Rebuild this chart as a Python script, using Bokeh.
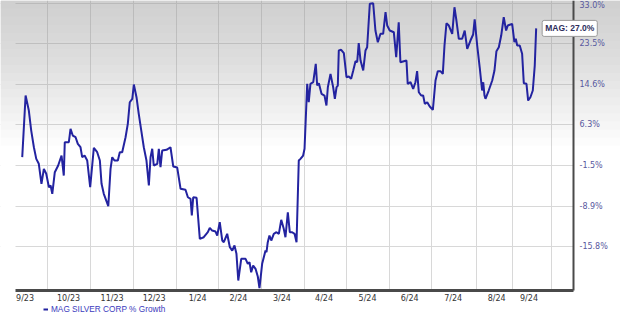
from bokeh.plotting import figure
from bokeh.models import Range1d, FixedTicker, Label, BoxAnnotation
from bokeh.embed import file_html
from bokeh.resources import INLINE

# ---- data ----
# trading-session positions, days since 2023-09-01
days = [5.0, 7.4, 9.7, 11.4, 13.3, 15.0, 16.8, 18.7, 20.4, 22.1, 24.0, 25.2, 26.4, 28.2, 30.6,
        33.0, 34.6, 35.3, 38.2, 39.4, 41.0, 43.0, 44.6, 46.5, 47.7, 49.4, 51.3, 53.4, 56.0, 58.4,
        60.3, 61.5, 63.1, 66.3, 67.9, 69.1, 70.7, 73.1, 74.5, 76.2, 78.6, 80.2, 81.6, 83.4, 84.5,
        86.4, 88.0, 89.8, 91.6, 93.5, 95.2, 96.4, 97.6, 98.7, 101.2, 102.3, 103.5, 104.7, 107.8, 110.6,
        112.6, 115.4, 117.8, 121.3, 123.0, 124.9, 125.8, 126.8, 129.2, 131.5, 134.3, 137.2, 138.6, 140.3, 142.7,
        143.9, 145.7, 147.5, 148.6, 151.0, 152.9, 154.6, 156.2, 157.6, 158.9, 161.0, 164.1, 165.7, 166.9, 168.1,
        169.5, 171.2, 172.8, 174.0, 175.9, 178.3, 179.0, 179.9, 181.1, 182.4, 184.2, 186.1, 187.8, 189.5, 191.3,
        192.5, 194.2, 195.6, 197.3, 199.0, 200.4, 202.0, 203.2, 205.1, 206.1, 208.0, 209.1, 210.3, 212.3, 214.1,
        215.1, 216.3, 218.2, 220.3, 221.7, 222.7, 224.6, 226.5, 227.7, 228.9, 229.8, 230.5, 232.2, 234.1, 236.0,
        237.6, 239.3, 240.8, 242.4, 243.6, 244.7, 246.0, 247.9, 249.5, 250.7, 252.6, 255.0, 256.6, 258.3, 260.2,
        262.1, 263.8, 265.0, 266.8, 269.7, 271.4, 273.2, 274.4, 278.7, 279.6, 281.6, 283.5, 285.1, 286.3, 287.5,
        289.2, 290.6, 291.8, 293.5, 295.3, 297.5, 299.4, 301.0, 302.9, 304.6, 305.8, 307.2, 308.9, 311.3, 312.9,
        314.3, 316.0, 318.4, 320.2, 322.0, 324.3, 326.2, 327.3, 329.1, 330.9, 332.6, 333.4, 334.3, 335.0, 337.3,
        339.8, 341.4, 342.8, 344.5, 346.2, 348.0, 349.7, 350.9, 354.0, 355.6, 356.6, 357.6, 359.4, 361.1, 362.3,
        364.2, 365.4, 367.0, 368.7, 370.1, 371.1]

# MAG SILVER CORP % growth
growth = [0.0, 12.24, 9.15, 5.14, 1.89, -0.32, -1.25, -4.94, -2.19, -3.11, -5.56, -5.25, -6.74, -2.82, -1.57,
          0.31, -3.43, 2.86, 2.86, 5.48, 4.16, 3.83, 2.55, 1.89, -0.01, 0.31, -0.64, -5.56, 1.78, 0.94,
          -0.64, -4.94, -6.74, -8.93, -2.19, -0.01, -0.64, -0.64, 0.94, 0.94, 3.83, 6.47, 10.85, 11.56, 14.56,
          11.89, 8.48, 5.14, 1.89, -0.64, -5.25, -0.01, 1.59, -1.57, -1.25, 1.59, -1.89, 1.26, 1.40, 1.89,
          -1.76, -1.95, -5.84, -6.02, -7.35, -7.63, -10.55, -7.35, -7.45, -14.50, -14.23, -13.39, -12.65, -13.11, -13.28,
          -13.95, -11.70, -14.78, -15.06, -13.66, -15.88, -16.43, -15.60, -16.96, -21.21, -17.77, -17.77, -18.57, -18.32, -19.91,
          -18.84, -19.37, -20.58, -22.40, -18.57, -16.43, -16.70, -15.06, -13.95, -14.78, -13.66, -13.39, -13.66, -11.29, -12.82,
          -14.23, -9.98, -13.39, -13.39, -13.66, -15.06, -0.64, -0.32, 0.31, 1.59, 14.70, 10.85, 14.70, 15.04, 19.02,
          14.34, 14.83, 12.60, 12.24, 10.17, 13.98, 16.84, 13.98, 11.56, 13.98, 14.34, 21.96, 22.12, 21.36, 16.11,
          16.26, 15.77, 17.56, 19.59, 19.37, 23.61, 19.74, 17.56, 21.96, 22.70, 32.81, 32.95, 26.51, 23.83, 25.75,
          25.75, 30.80, 27.67, 26.51, 26.12, 20.47, 28.44, 19.37, 19.74, 14.70, 15.04, 13.65, 15.04, 17.41, 12.93,
          12.24, 12.24, 10.52, 10.85, 9.97, 9.30, 15.41, 17.41, 17.41, 16.84, 23.09, 28.20, 27.67, 25.75, 31.99,
          28.84, 24.61, 24.61, 26.51, 22.34, 24.22, 25.59, 29.12, 23.09, 18.21, 13.29, 15.04, 12.24, 11.56, 13.29,
          15.41, 17.56, 21.81, 22.70, 25.36, 29.61, 26.51, 27.67, 28.06, 23.83, 24.61, 23.09, 23.09, 21.23, 14.83,
          14.70, 11.20, 11.89, 13.29, 18.64, 27.0]

x_tick_days = [7, 38, 69, 99, 130, 159, 190, 220, 251, 281, 312, 343, 366]
x_tick_labels = ["9/23", "10/23", "11/23", "12/23", "1/24", "2/24", "3/24",
                 "4/24", "5/24", "6/24", "7/24", "8/24", "9/24"]
x_grid_days = [23, 53.6, 84.3, 114.9, 144.8, 175.4, 206, 236, 266.6, 296.5, 328.6, 354.2, 382]
y_tick_pct = [33.0, 23.5, 14.6, 6.3, -1.5, -8.9, -15.8]
series_name = "MAG SILVER CORP % Growth"
ticker_name = "MAG"

# the source chart's vertical scale is logarithmic in (growth + 120%)
OFFSET = 1.2


def to_axis(g):
    return g / 100.0 + OFFSET


W, H = 620, 315
AREA_LEFT_PX = 15                        # left edge of the price area on the canvas
AXIS_X_PX, AXIS_Y_PX = 573, 290          # where the chart's two axes sit on the canvas

x_start, x_axis_end = 0.2, 397.7         # visible date span of the price area
px_per_day = (AXIS_X_PX - AREA_LEFT_PX) / (x_axis_end - x_start)
x_view_start = x_start - AREA_LEFT_PX / px_per_day
x_view_end = x_start + (W - AREA_LEFT_PX) / px_per_day

y_axis_bottom, y_hi = to_axis(-22.75), to_axis(33.61)
y_view_lo = y_hi * (y_axis_bottom / y_hi) ** (H / AXIS_Y_PX)

p = figure(width=W, height=H, x_range=Range1d(x_view_start, x_view_end), y_range=Range1d(y_view_lo, y_hi),
           y_axis_type="log", y_axis_location="right",
           output_backend="svg", toolbar_location=None,
           min_border_left=0, min_border_right=0, min_border_top=0, min_border_bottom=0,
           background_fill_color="white", border_fill_color="white")
p.outline_line_color = None

# grids
p.ygrid.grid_line_color = "#d8d8d8"
p.xgrid.grid_line_color = "#d8d8d8"
p.xgrid.ticker = FixedTicker(ticks=x_grid_days)

# keep grid lines inside the price area
p.add_layout(BoxAnnotation(left=x_axis_end, fill_color="white", fill_alpha=1.0,
                           line_color=None, level="underlay"))
p.add_layout(BoxAnnotation(right=x_start, fill_color="white", fill_alpha=1.0,
                           line_color=None, level="underlay"))
p.add_layout(BoxAnnotation(top=y_axis_bottom, fill_color="white", fill_alpha=1.0,
                           line_color=None, level="underlay"))

# soft grey gradient at the top of the chart
n_bands = 18
for i in range(n_bands):
    frac = (i + 1) / n_bands * 0.5
    p.add_layout(BoxAnnotation(top=y_hi, bottom=y_hi * (y_axis_bottom / y_hi) ** frac,
                               fill_color="#a0a0a0", fill_alpha=0.033, line_color=None,
                               level="underlay"))

# x axis, drawn at the bottom of the price area
xa = p.xaxis[0]
xa.fixed_location = y_axis_bottom
xa.ticker = FixedTicker(ticks=x_tick_days)
xa.bounds = (x_start, x_axis_end)
xa.major_label_overrides = {d: l for d, l in zip(x_tick_days, x_tick_labels)}
xa.axis_line_width = 3
xa.axis_line_color = "#4a4a4a"
xa.major_tick_line_color = None
xa.minor_tick_line_color = None
xa.major_tick_out = 0
xa.major_tick_in = 0
xa.major_label_standoff = 3
xa.major_label_text_font = "DejaVu Sans"
xa.major_label_text_font_size = "8px"
xa.major_label_text_color = "#333333"

# y axis, drawn at the right of the price area
ya = p.yaxis[0]
y_ticks = [to_axis(t) for t in y_tick_pct]
ya.fixed_location = x_axis_end
ya.bounds = (y_axis_bottom, y_hi)
ya.ticker = FixedTicker(ticks=y_ticks)
ya.major_label_overrides = {v: f"{t:.1f}%" for v, t in zip(y_ticks, y_tick_pct)}
ya.axis_line_width = 2
ya.axis_line_color = "#4a4a4a"
ya.major_tick_line_color = None
ya.minor_tick_line_color = None
ya.major_tick_out = 0
ya.major_tick_in = 0
ya.major_label_standoff = 6
ya.major_label_text_font = "DejaVu Sans"
ya.major_label_text_font_size = "8px"
ya.major_label_text_color = "#58589e"

# the series
yvals = [to_axis(g) for g in growth]
p.line(days, yvals, line_color="#2323a0", line_width=2, legend_label=series_name)

leg = p.legend[0]
leg.location = (43, 0)
leg.background_fill_alpha = 0
leg.border_line_color = None
leg.padding = 0
leg.margin = 0
leg.glyph_width = 5
leg.glyph_height = 12
leg.label_height = 12
leg.label_standoff = 3
leg.label_text_font = "Liberation Sans"
leg.label_text_font_size = "8.25px"
leg.label_text_color = "#3b3bbd"

# last-value tag
p.add_layout(Label(x=days[-1], y=yvals[-1], x_offset=6,
                   text=f"{ticker_name}: {growth[-1]:.1f}%",
                   text_baseline="middle", text_align="left",
                   text_font="Liberation Sans", text_font_size="8.5px", text_font_style="bold",
                   text_color="#2e2e5c",
                   background_fill_color="white", border_line_color="#9a9a9a",
                   border_line_width=1, padding=3, border_radius=2))

open("out.html", "w").write(file_html(p, INLINE))
